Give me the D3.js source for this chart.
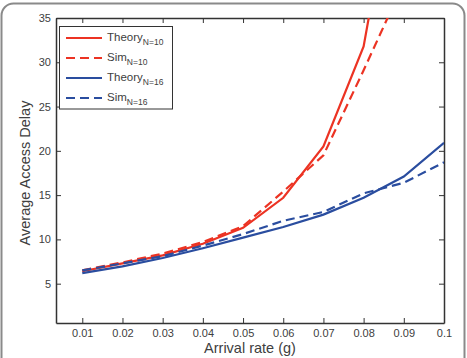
<!DOCTYPE html>
<html><head><meta charset="utf-8">
<script src="https://cdn.jsdelivr.net/npm/d3@7"></script>
<style>body{margin:0;background:#fff}svg{display:block;font-family:"Liberation Sans",Arial,sans-serif}</style>
</head><body><div id="chart"></div>
<script>
const arrivalRates = [0.01,0.02,0.03,0.04,0.05,0.06,0.07,0.08,0.09,0.1];
const theoryN10 = [6.4,7.3,8.2,9.5,11.3,14.7,20.5,31.8,57,null];
const simN10    = [6.5,7.4,8.4,9.7,11.5,15.4,19.5,29.1,39,null];
const theoryN16 = [6.2,6.95,7.9,9.0,10.2,11.4,12.8,14.7,17.1,20.9];
const simN16    = [6.5,7.3,8.1,9.3,10.6,12.1,13.1,15.2,16.4,18.7];
const xTicks = [0.01,0.02,0.03,0.04,0.05,0.06,0.07,0.08,0.09,0.1];
const yTicks = [5,10,15,20,25,30,35];
const seriesNames = ["Theory","Sim","Theory","Sim"];
const seriesSubs = ["N=10","N=10","N=16","N=16"];

const W=467,H=358;
const m={l:56,r:23,t:18,b:35};
const red="#ec3323", blue="#2a4d9f";
const svg=d3.select("#chart").append("svg").attr("width",W).attr("height",H);
svg.append("rect").attr("x",1.5).attr("y",3.5).attr("width",463).attr("height",H+20).attr("rx",12)
  .attr("fill","#fff").attr("stroke","#8a8a8a").attr("stroke-width",2);

const x=d3.scaleLinear().domain([0.00346,0.1]).range([m.l,W-m.r]);
const y=d3.scaleLinear().domain([0.56,35]).range([H-m.b,m.t]);
const pw=W-m.r-m.l, ph=H-m.b-m.t;

const g=svg.append("g");
svg.append("defs").append("clipPath").attr("id","clip").append("rect")
  .attr("x",m.l).attr("y",m.t).attr("width",pw).attr("height",ph);

const tc="#404040";
const ax=g.append("g").attr("transform",`translate(0,${H-m.b})`)
  .call(d3.axisBottom(x).tickValues(xTicks).tickFormat(d=>d===0.1?"0.1":d3.format(".2f")(d)).tickSizeInner(-5).tickSizeOuter(0).tickPadding(6));
const ay=g.append("g").attr("transform",`translate(${m.l},0)`)
  .call(d3.axisLeft(y).tickValues(yTicks).tickFormat(d3.format("d")).tickSizeInner(-5).tickSizeOuter(0).tickPadding(5));
const at=g.append("g").attr("transform",`translate(0,${m.t})`)
  .call(d3.axisTop(x).tickValues(xTicks).tickFormat("").tickSizeInner(-5).tickSizeOuter(0));
const ar=g.append("g").attr("transform",`translate(${W-m.r},0)`)
  .call(d3.axisRight(y).tickValues(yTicks).tickFormat("").tickSizeInner(-5).tickSizeOuter(0));
[ax,ay,at,ar].forEach(a=>{
  a.selectAll("path").attr("stroke","#333").attr("stroke-width",1.5);
  a.selectAll("line").attr("stroke","#333").attr("stroke-width",1);
  a.selectAll("text").attr("fill",tc).style("font-size","11px").style("font-family","Liberation Sans, Arial, sans-serif");
});

const line=d3.line().defined(d=>d[1]!=null).x(d=>x(d[0])).y(d=>y(d[1]));
const series=[
  {v:theoryN10,c:red,dash:null},
  {v:simN10,c:red,dash:"9,5"},
  {v:theoryN16,c:blue,dash:null},
  {v:simN16,c:blue,dash:"9,5"}];
const pg=svg.append("g").attr("clip-path","url(#clip)");
series.forEach(s=>{
  pg.append("path").datum(arrivalRates.map((r,i)=>[r,s.v[i]]))
    .attr("d",line).attr("fill","none").attr("stroke",s.c).attr("stroke-width",2.2)
    .attr("stroke-dasharray",s.dash);
});

const lg=svg.append("g");
lg.append("rect").attr("x",59.5).attr("y",26.5).attr("width",113).attr("height",82.5)
  .attr("fill","#fff").attr("stroke","#333").attr("stroke-width",1);
series.forEach((s,i)=>{
  const yy=38+i*20;
  lg.append("line").attr("x1",66).attr("x2",102).attr("y1",yy).attr("y2",yy)
    .attr("stroke",s.c).attr("stroke-width",2.2).attr("stroke-dasharray",s.dash);
  const t=lg.append("text").attr("x",107).attr("y",yy+3).attr("fill",tc).style("font-size","11.5px");
  t.append("tspan").text(seriesNames[i]);
  t.append("tspan").attr("dy",4).style("font-size","8.5px").text(seriesSubs[i]);
});

svg.append("text").attr("x",250).attr("y",353).attr("text-anchor","middle")
  .attr("fill",tc).style("font-size","14.5px").text("Arrival rate (g)");
svg.append("text").attr("transform",`translate(30,173) rotate(-90)`).attr("text-anchor","middle")
  .attr("fill",tc).style("font-size","14.5px").text("Average Access Delay");
</script></body></html>
